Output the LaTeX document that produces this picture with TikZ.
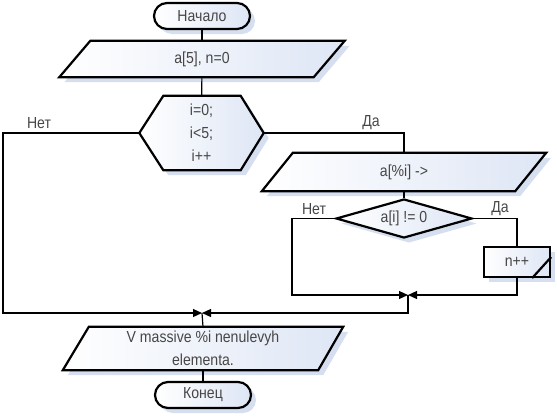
\documentclass[tikz,border=0pt]{standalone}
\usepackage{fontspec}
\setmainfont{Liberation Sans}[FakeStretch=0.88]
\usetikzlibrary{calc,arrows.meta,shadows,shapes.geometric,backgrounds}
\definecolor{shadowc}{RGB}{214,223,240}
\definecolor{fillb}{RGB}{222,230,245}
\definecolor{txt}{RGB}{70,70,70}
\tikzset{
  box/.style={line width=2.2pt, draw=black, left color=white, right color=fillb,
    drop shadow={shadow xshift=5pt, shadow yshift=-5pt, fill=shadowc, opacity=1}},
  txtnode/.style={inner sep=0pt, text=txt, font=\fontsize{16}{23}\selectfont, align=center},
  term/.style={box, txtnode, rounded corners=13pt, minimum width=96pt, minimum height=26pt},
  conn/.style={line width=1.2pt},
  arr/.style={conn, -{Triangle[length=9pt,width=8pt]}},
  lbl/.style={text=txt, font=\fontsize{16}{18}\selectfont, inner sep=0pt},
}
\begin{document}
\begin{tikzpicture}[x=1pt,y=-1pt]
\useasboundingbox (0,0) rectangle (557,416);

% nodes
\node[term] (start) at (202,16) {Начало};
\node[txtnode, minimum width=285pt, minimum height=36pt] (in1) at (202,59) {a[5], n=0};
\node[txtnode, minimum width=124pt, minimum height=74pt] (loop) at (201.5,133) {i=0;\\i<5;\\i++};
\node[txtnode, minimum width=284pt, minimum height=38pt] (in2) at (404,172) {a[\%i] ->};
\node[box, txtnode, diamond, aspect=3.5, minimum width=136pt, minimum height=39pt] (cond) at (404,218.5) {a[i] != 0};
\node[box, txtnode, minimum width=66pt, minimum height=30pt] (inc) at (517,262) {n++};
\node[txtnode, minimum width=280pt, minimum height=43pt] (out) at (203,348.5) {V massive \%i nenulevyh\\elementa.};
\node[term] (end) at (203,395) {Конец};

% shapes drawn behind the text nodes
\begin{scope}[on background layer]
  \path[box] (in1.south west) -- ($(in1.north west)+(31pt,0pt)$) -- (in1.north east)
    -- ($(in1.south east)+(-31pt,0pt)$) -- cycle;
  \path[box] (loop.west) -- ($(loop.north west)+(24pt,0pt)$) -- ($(loop.north east)+(-23pt,0pt)$)
    -- (loop.east) -- ($(loop.south east)+(-23pt,0pt)$) -- ($(loop.south west)+(24pt,0pt)$) -- cycle;
  \path[box] (in2.south west) -- ($(in2.north west)+(31pt,0pt)$) -- (in2.north east)
    -- ($(in2.south east)+(-31pt,0pt)$) -- cycle;
  \path[box] (out.south west) -- ($(out.north west)+(26pt,0pt)$) -- (out.north east)
    -- ($(out.south east)+(-25pt,0pt)$) -- cycle;
\end{scope}
\draw[line width=2.2pt] ($(inc.south east)+(-19pt,0pt)$) -- ($(inc.south east)+(0pt,21pt)$);

% junction coordinates
\coordinate (m1) at (202,313);
\coordinate (m2) at (408,295);
\coordinate (lc) at (3,313);
\coordinate (nc) at (292,295);

% connectors
\draw[conn] (start) -- (in1);
\draw[conn] (in1) -- (loop);
\draw[arr] (loop.west) -| (lc) -- (m1);
\draw[conn] (loop.east) -| (in2.north);
\draw[conn] (in2) -- (cond);
\draw[arr] (cond.west) -| (nc) -- (m2);
\draw[conn] (cond.east) -| (inc.north);
\draw[arr] (inc.south) |- (m2);
\draw[arr] (m2) |- (m1);
\draw[conn] (m1) -- (out.north);
\draw[conn] (out) -- (end);

% labels
\node[lbl] (l1) at (39,123) {Нет};
\node[lbl] (l2) at (371,123) {Да};
\node[lbl] (l3) at (314,209) {Нет};
\node[lbl] (l4) at (500,209) {Да};
\end{tikzpicture}
\end{document}
